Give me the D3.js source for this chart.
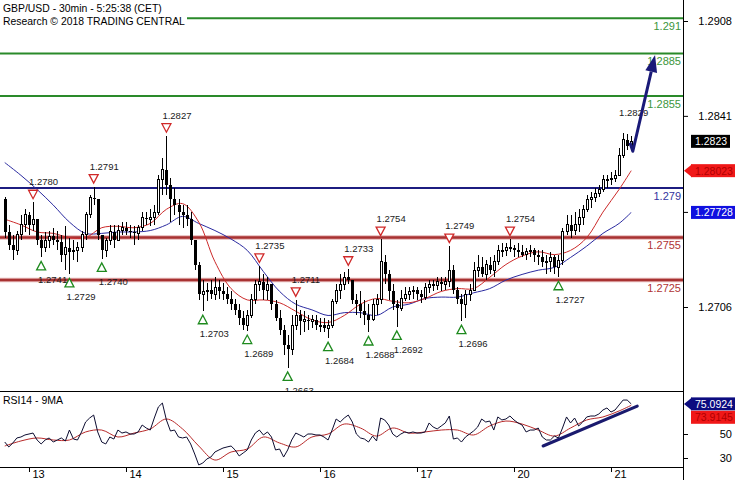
<!DOCTYPE html>
<html><head><meta charset="utf-8">
<script src="https://cdn.jsdelivr.net/npm/d3@7"></script>
<style>body{margin:0;background:#fff}svg{display:block;font-family:"Liberation Sans",Arial,sans-serif}</style>
</head><body><svg id="c" width="735" height="480"></svg>
<script>
// ---------------- DATA ----------------
const titleLine1 = "GBP/USD - 30min - 5:25:38 (CET)";
const titleLine2 = "Research \u00A9 2018 TRADING CENTRAL";
const rsiTitle = "RSI14 - 9MA";
const dayLabels = ["13","14","15","16","17","20","21"];
const dayStartIdx = [6,30,54,78,102,126,150];
const firstOpen = 1.2782;
const highs = [1.2784,1.2764,1.2757,1.2760,1.2771,1.2775,1.2773,1.2780,1.2768,1.2757,
1.2759,1.2760,1.2762,1.2760,1.2757,1.2763,1.2755,1.2753,1.2752,1.2760,
1.2773,1.2785,1.2791,1.2782,1.2757,1.2755,1.2764,1.2764,1.2764,1.2766,
1.2766,1.2764,1.2763,1.2764,1.2773,1.2773,1.2775,1.2778,1.2799,1.2811,
1.2827,1.2797,1.2790,1.2782,1.2778,1.2778,1.2773,1.2753,1.2738,1.2725,
1.2723,1.2725,1.2727,1.2725,1.2723,1.2720,1.2717,1.2712,1.2708,1.2703,
1.2704,1.2715,1.2725,1.2735,1.2729,1.2727,1.2722,1.2711,1.2704,1.2693,
1.2686,1.2700,1.2711,1.2704,1.2703,1.2700,1.2700,1.2700,1.2698,1.2698,
1.2697,1.2712,1.2722,1.2729,1.2731,1.2733,1.2725,1.2715,1.2717,1.2711,
1.2708,1.2712,1.2715,1.2754,1.2743,1.2732,1.2722,1.2711,1.2718,1.2720,
1.2720,1.2721,1.2720,1.2718,1.2723,1.2725,1.2725,1.2727,1.2727,1.2727,
1.2749,1.2736,1.2720,1.2715,1.2718,1.2722,1.2738,1.2743,1.2741,1.2739,
1.2741,1.2743,1.2750,1.2751,1.2751,1.2754,1.2750,1.2751,1.2750,1.2748,
1.2750,1.2748,1.2746,1.2746,1.2743,1.2745,1.2743,1.2743,1.2762,1.2771,
1.2771,1.2773,1.2775,1.2778,1.2785,1.2787,1.2790,1.2792,1.2799,1.2799,
1.2801,1.2803,1.2818,1.2829,1.2828,1.2827];
const lows = [1.2755,1.2746,1.2739,1.2743,1.2753,1.2759,1.2757,1.2760,1.2750,1.2741,
1.2745,1.2748,1.2750,1.2746,1.2738,1.2732,1.2729,1.2739,1.2738,1.2745,
1.2753,1.2769,1.2778,1.2753,1.2740,1.2741,1.2750,1.2748,1.2753,1.2757,
1.2757,1.2755,1.2750,1.2753,1.2760,1.2764,1.2763,1.2764,1.2771,1.2785,
1.2785,1.2766,1.2771,1.2764,1.2762,1.2763,1.2750,1.2732,1.2711,1.2703,
1.2710,1.2712,1.2711,1.2712,1.2711,1.2708,1.2704,1.2700,1.2693,1.2690,
1.2689,1.2698,1.2708,1.2717,1.2711,1.2711,1.2704,1.2696,1.2686,1.2672,
1.2663,1.2672,1.2690,1.2686,1.2688,1.2690,1.2691,1.2690,1.2688,1.2688,
1.2684,1.2691,1.2708,1.2712,1.2718,1.2722,1.2708,1.2700,1.2698,1.2693,
1.2688,1.2696,1.2700,1.2708,1.2722,1.2711,1.2704,1.2692,1.2703,1.2710,
1.2711,1.2712,1.2711,1.2709,1.2711,1.2716,1.2717,1.2718,1.2717,1.2718,
1.2720,1.2715,1.2708,1.2696,1.2698,1.2710,1.2717,1.2727,1.2727,1.2725,
1.2729,1.2727,1.2736,1.2741,1.2742,1.2745,1.2741,1.2741,1.2741,1.2739,
1.2741,1.2738,1.2736,1.2734,1.2729,1.2731,1.2729,1.2727,1.2736,1.2757,
1.2755,1.2757,1.2759,1.2764,1.2773,1.2776,1.2780,1.2784,1.2787,1.2790,
1.2792,1.2794,1.2799,1.2811,1.2817,1.2818];
const closes = [1.2759,1.2750,1.2746,1.2757,1.2764,1.2771,1.2764,1.2768,1.2753,1.2748,
1.2753,1.2756,1.2753,1.2752,1.2743,1.2748,1.2745,1.2746,1.2748,1.2757,
1.2771,1.2783,1.2782,1.2757,1.2746,1.2753,1.2759,1.2753,1.2760,1.2762,
1.2760,1.2759,1.2758,1.2762,1.2769,1.2768,1.2769,1.2773,1.2796,1.2803,
1.2792,1.2782,1.2778,1.2773,1.2771,1.2768,1.2753,1.2736,1.2715,1.2717,
1.2718,1.2715,1.2720,1.2717,1.2715,1.2712,1.2708,1.2704,1.2698,1.2693,
1.2700,1.2711,1.2722,1.2724,1.2718,1.2722,1.2708,1.2698,1.2690,1.2679,
1.2676,1.2693,1.2700,1.2696,1.2697,1.2696,1.2697,1.2693,1.2693,1.2691,
1.2693,1.2710,1.2718,1.2722,1.2727,1.2725,1.2711,1.2708,1.2703,1.2700,
1.2697,1.2708,1.2711,1.2738,1.2729,1.2717,1.2708,1.2705,1.2712,1.2715,
1.2717,1.2718,1.2715,1.2713,1.2720,1.2722,1.2721,1.2724,1.2722,1.2724,
1.2732,1.2718,1.2712,1.2708,1.2715,1.2718,1.2732,1.2734,1.2729,1.2736,
1.2732,1.2738,1.2746,1.2746,1.2748,1.2748,1.2746,1.2745,1.2743,1.2745,
1.2746,1.2743,1.2741,1.2738,1.2738,1.2741,1.2734,1.2739,1.2759,1.2764,
1.2760,1.2764,1.2769,1.2775,1.2782,1.2783,1.2786,1.2789,1.2796,1.2796,
1.2797,1.2799,1.2813,1.2824,1.2820,1.2823];
const maIdx = [0,4,8,12,16,20,24,28,32,36,40,44,48,52,56,60,64,68,72,76,80,84,88,92,96,100,104,108,112,116,120,124,128,132,136,140,144,148,152,155];
const redMA = [1.2768,1.2764,1.2759,1.2758,1.2755,1.2755,1.2762,1.2763,1.2762,1.2765,
1.2775,1.2779,1.2766,1.2738,1.2719,1.2711,1.2711,1.2709,1.2703,1.2697,
1.2695,1.2700,1.2708,1.2712,1.2710,1.2709,1.2712,1.2717,1.2719,1.2719,
1.2727,1.2736,1.2742,1.2745,1.2743,1.2746,1.2755,1.2773,1.2789,1.28023];
const blueMA = [1.2808,1.2799,1.2789,1.2778,1.2766,1.2758,1.2758,1.2759,1.2759,1.2760,
1.2764,1.2770,1.2765,1.2760,1.2754,1.2746,1.2731,1.2717,1.2708,1.2704,
1.2700,1.2702,1.2702,1.2700,1.2706,1.2708,1.2712,1.2713,1.2713,1.2716,
1.2719,1.2725,1.2729,1.2732,1.2734,1.2741,1.2749,1.2758,1.2765,1.27728];
const rsi = [43.3,39.2,42.5,46.7,47.5,49.2,50,50.8,45,41.7,
45,46.7,43.3,45,46.7,44.2,53.3,45.8,45,51.7,
60,63.3,65.8,51.7,43.3,41.7,47.5,45.8,53.3,50.8,
51.7,50,50,51.7,57.5,55,53.3,63.3,72.5,75.8,
61.7,52.5,53.3,47.5,46.7,47.5,41.7,33.3,24.2,25.8,
29.2,30.8,35,36.7,38.3,39.2,40,36.7,31.7,34.2,
36.7,45,50.8,53.3,49.2,51.7,47.5,36.7,37.5,30.8,
36.7,45,50.8,49.2,47.5,50,50,49.2,49.2,47.5,
45,53.3,62.5,60,63.3,65.8,60,50,46.7,45.8,
43.3,48.3,44.2,63.3,61.7,57.5,50,47.5,50,51.7,
50.8,51.7,50.8,50.8,51.7,59.2,55.8,54.2,56.7,59.2,
65,45.8,46.7,43.3,47.5,50,52.5,55.8,62.5,60,
60.8,53.3,64.2,61.7,62.5,65,61.7,59.2,57.5,51.7,
53.3,53.3,55,47.5,45,45,48.3,46.7,55,64.2,
59.2,63.3,56.7,60,64.2,65,65,66.7,70,71.7,
68.3,70,74.2,78.3,78.3,75.0924];
const rsiMA = [40,44.2,46.7,45,45,51.7,53.3,47.5,50.8,54.2,
62.5,54.2,40,28.3,35,37.5,47.5,42.5,39.2,47.5,
50,58.3,55,48.3,55,50.8,51.7,53.3,53.3,49.2,
56.7,60.8,58.3,53.3,48.3,55,61.7,64.2,69.2,73.9145];
const levelsGreen = [1.291, 1.2885, 1.2855];
const levelsGreenText = ["1.291", "1.2885", "1.2855"];
const levelsBlue = [1.279];
const levelsBlueText = ["1.279"];
const levelsRed = [1.2755, 1.2725];
const levelsRedText = ["1.2755", "1.2725"];
const priceTicks = [1.2908, 1.2841, 1.2706];
const rsiTicks = [50, 30];
const markHighIdx = [7, 22, 40, 63, 72, 85, 93, 110, 125];
const labelOnlyHighIdx = [153];
const markLowIdx = [9, 16, 24, 49, 60, 70, 80, 90, 97, 113, 137];
const arrowPts = [[154.7, 1.2822], [155.4, 1.2816], [160.9, 1.2884]];
const rsiTrend = [[133.2, 40], [156.5, 73.3]];
const lastPrice = 1.2823, lastRedMA = 1.28023, lastBlueMA = 1.27728;
const lastRsi = 75.0924, lastRsiMA = 73.9145;

// ---------------- LAYOUT ----------------
const W = 735, H = 480, R = 683, MB = 391, RT = 391, RB = 467;
const svg = d3.select("#c");
const x = d3.scaleLinear().domain([0, closes.length - 1]).range([4.75, 631.2]);
const y = d3.scaleLinear().domain([1.2706, 1.2908]).range([307, 21]);
const yr = d3.scaleLinear().domain([30, 50]).range([458, 434]);
const FONT = '"Liberation Sans", Arial, sans-serif';

svg.append("rect").attr("width", W).attr("height", H).attr("fill", "#fff");
const defs = svg.append("defs");
defs.append("clipPath").attr("id", "mainClip").append("rect")
  .attr("x", 0).attr("y", 0).attr("width", R).attr("height", MB);
defs.append("clipPath").attr("id", "rsiClip").append("rect")
  .attr("x", 0).attr("y", RT).attr("width", R).attr("height", RB - RT);

const main = svg.append("g").attr("clip-path", "url(#mainClip)");

// horizontal levels
function levelLines(vals, color, width, halo) {
  if (halo) {
    main.append("g").selectAll("line").data(vals).join("line")
      .attr("x1", 0).attr("x2", R).attr("y1", d => y(d)).attr("y2", d => y(d))
      .attr("stroke", halo).attr("stroke-width", width + 2);
  }
  main.append("g").selectAll("line").data(vals).join("line")
    .attr("x1", 0).attr("x2", R).attr("y1", d => y(d)).attr("y2", d => y(d))
    .attr("stroke", color).attr("stroke-width", width);
}
levelLines(levelsGreen, "#2a8a2a", 2);
levelLines(levelsBlue, "#1c1c80", 2);
levelLines(levelsRed, "#a83232", 2.5, "#e4b4b4");

// moving averages
const maLine = d3.line().x(d => x(d[0])).y(d => y(d[1])).curve(d3.curveCatmullRom);
main.append("path").datum(maIdx.map((k, j) => [k, blueMA[j]]))
  .attr("d", maLine).attr("fill", "none").attr("stroke", "#2a2aa0").attr("stroke-width", 1);
main.append("path").datum(maIdx.map((k, j) => [k, redMA[j]]))
  .attr("d", maLine).attr("fill", "none").attr("stroke", "#cc2a2a").attr("stroke-width", 1);

// candles
const bars = closes.map((c, i) => ({ i, o: i ? closes[i - 1] : firstOpen, h: highs[i], l: lows[i], c }));
const cg = main.append("g").attr("shape-rendering", "crispEdges");
cg.selectAll("line").data(bars).join("line")
  .attr("x1", d => Math.round(x(d.i)) + 0.5).attr("x2", d => Math.round(x(d.i)) + 0.5)
  .attr("y1", d => y(Math.max(d.h, d.o, d.c))).attr("y2", d => y(Math.min(d.l, d.o, d.c)))
  .attr("stroke", "#000").attr("stroke-width", 1);
cg.selectAll("rect").data(bars).join("rect")
  .attr("x", d => d.c >= d.o ? Math.round(x(d.i)) - 0.5 : Math.round(x(d.i)) - 1)
  .attr("width", d => d.c >= d.o ? 2 : 3)
  .attr("y", d => y(Math.max(d.o, d.c)))
  .attr("height", d => Math.max(1, y(Math.min(d.o, d.c)) - y(Math.max(d.o, d.c))))
  .attr("fill", d => d.c >= d.o ? "#fff" : "#000")
  .attr("stroke", d => d.c >= d.o ? "#000" : "none").attr("stroke-width", 1);

// swing markers
const mk = main.append("g");
mk.selectAll("path.hi").data(markHighIdx).join("path").attr("class", "hi")
  .attr("d", i => { const cx = x(i), t = y(highs[i]) - 12; return `M${cx - 4.5},${t}L${cx + 4.5},${t}L${cx},${t + 8.5}Z`; })
  .attr("fill", "#fff").attr("stroke", "#d02828").attr("stroke-width", 1.3);
mk.selectAll("path.lo").data(markLowIdx).join("path").attr("class", "lo")
  .attr("d", i => { const cx = x(i), b = y(lows[i]) + 12.5; return `M${cx - 4.5},${b}L${cx + 4.5},${b}L${cx},${b - 8.5}Z`; })
  .attr("fill", "#fff").attr("stroke", "#1e8a1e").attr("stroke-width", 1.3);
mk.selectAll("text.hi").data(markHighIdx.concat(labelOnlyHighIdx)).join("text").attr("class", "hi")
  .attr("x", i => x(i) - 4).attr("y", i => y(highs[i]) - 17)
  .attr("font-size", 9.5).attr("font-family", FONT).attr("fill", "#1a1a1a")
  .text(i => highs[i].toFixed(4));
mk.selectAll("text.lo").data(markLowIdx).join("text").attr("class", "lo")
  .attr("x", i => x(i) - 3).attr("y", i => y(lows[i]) + 26)
  .attr("font-size", 9.5).attr("font-family", FONT).attr("fill", "#1a1a1a")
  .text(i => lows[i].toFixed(4));

// level labels
function levelLabels(vals, txt, color) {
  main.append("g").selectAll("text").data(vals).join("text")
    .attr("x", R - 2).attr("y", d => y(d) + 11.5).attr("text-anchor", "end")
    .attr("font-size", 11).attr("font-family", FONT).attr("fill", color)
    .text((d, k) => txt[k]);
}
levelLabels(levelsGreen, levelsGreenText, "#3c963c");
levelLabels(levelsBlue, levelsBlueText, "#3434a0");
levelLabels(levelsRed, levelsRedText, "#b03434");

// projection arrow
const ap = arrowPts.map(d => [x(d[0]), y(d[1])]);
const tip = ap[ap.length - 1], prev = ap[ap.length - 2];
const ang = Math.atan2(tip[1] - prev[1], tip[0] - prev[0]);
const hl = 17, hw = 6;
const base = [tip[0] - hl * Math.cos(ang), tip[1] - hl * Math.sin(ang)];
const shaft = ap.slice(0, -1).concat([base]);
main.append("path").attr("d", d3.line()(shaft)).attr("fill", "none")
  .attr("stroke", "#1a1a78").attr("stroke-width", 3).attr("stroke-linejoin", "round");
main.append("path")
  .attr("d", `M${tip[0]},${tip[1]}L${base[0] + hw * Math.sin(ang)},${base[1] - hw * Math.cos(ang)}L${base[0] - hw * Math.sin(ang)},${base[1] + hw * Math.cos(ang)}Z`)
  .attr("fill", "#1a1a78");

// title
svg.append("rect").attr("x", 0).attr("y", 0).attr("width", 187).attr("height", 28).attr("fill", "#fff");
svg.append("text").attr("x", 3).attr("y", 12).attr("font-size", 10.4).attr("font-family", FONT).attr("fill", "#000").text(titleLine1);
svg.append("text").attr("x", 3).attr("y", 25).attr("font-size", 10.4).attr("font-family", FONT).attr("fill", "#000").text(titleLine2);

// ---------------- RSI PANEL ----------------
svg.append("rect").attr("x", 0).attr("y", RT).attr("width", R).attr("height", RB - RT).attr("fill", "#fff");
const rg = svg.append("g").attr("clip-path", "url(#rsiClip)");
rg.append("path").datum(maIdx.map((k, j) => [k, rsiMA[j]]))
  .attr("d", d3.line().x(d => x(d[0])).y(d => yr(d[1])).curve(d3.curveCatmullRom))
  .attr("fill", "none").attr("stroke", "#b82a2a").attr("stroke-width", 1);
rg.append("path").datum(rsi.map((v, i) => [i, v]))
  .attr("d", d3.line().x(d => x(d[0])).y(d => yr(d[1])))
  .attr("fill", "none").attr("stroke", "#0c0c30").attr("stroke-width", 1);
rg.append("path").datum(rsiTrend)
  .attr("d", d3.line().x(d => x(d[0])).y(d => yr(d[1])))
  .attr("stroke", "#1a1a6e").attr("stroke-width", 3).attr("stroke-linecap", "round");
svg.append("line").attr("x1", 0).attr("x2", R).attr("y1", RT + 0.5).attr("y2", RT + 0.5).attr("stroke", "#000");
svg.append("line").attr("x1", 0).attr("x2", R).attr("y1", RB + 0.5).attr("y2", RB + 0.5).attr("stroke", "#000");
svg.append("text").attr("x", 3).attr("y", 404).attr("font-size", 10.5).attr("font-family", FONT).attr("fill", "#000").text(rsiTitle);

// ---------------- AXES ----------------
svg.append("line").attr("x1", R + 0.5).attr("x2", R + 0.5).attr("y1", 0).attr("y2", H).attr("stroke", "#000");
function styleAxis(g) {
  g.select(".domain").remove();
  g.selectAll("line").attr("stroke", "#000");
  g.selectAll("text").attr("font-size", 11).attr("font-family", FONT).attr("fill", "#000");
}
const axP = svg.append("g").attr("transform", `translate(${R},0)`)
  .call(d3.axisRight(y).tickValues(priceTicks).tickSize(5).tickFormat(d3.format(".4f")));
styleAxis(axP);
axP.selectAll("text").attr("x", 49).attr("text-anchor", "end");
const axR = svg.append("g").attr("transform", `translate(${R},0)`)
  .call(d3.axisRight(yr).tickValues(rsiTicks).tickSize(5).tickFormat(d3.format("d")));
styleAxis(axR);
axR.selectAll("text").attr("x", 49).attr("text-anchor", "end");
const axB = svg.append("g").attr("transform", `translate(0,${RB})`)
  .call(d3.axisBottom(x).tickValues(dayStartIdx).tickSize(5).tickFormat((d, k) => dayLabels[k]));
styleAxis(axB);
axB.selectAll("text").attr("x", 3).attr("y", 11).attr("dy", 0).attr("text-anchor", "start");

// value tags
function tag(yy, txt, bg, fg, pointer, tick, full) {
  const g = svg.append("g");
  const top = yy - 6.5;
  if (tick) g.append("line").attr("x1", R).attr("x2", R + 5).attr("y1", yy).attr("y2", yy).attr("stroke", "#000");
  if (pointer) g.append("path").attr("d", `M${R + 1},${yy}L${R + 9},${top}L${R + 9},${top + 13}Z`).attr("fill", bg);
  g.append("rect").attr("x", R + 8).attr("y", top).attr("width", (pointer || full) ? W - R - 8 : 39).attr("height", 13).attr("fill", bg);
  g.append("text").attr("x", R + 12).attr("y", yy + 4).attr("font-size", 10.5).attr("font-family", FONT).attr("fill", fg).text(txt);
}
tag(y(lastPrice), lastPrice.toFixed(4), "#000", "#fff", false, false, false);
tag(y(lastRedMA), lastRedMA.toFixed(5), "#f01818", "#b00000", true, false, true);
tag(y(lastBlueMA), lastBlueMA.toFixed(5), "#1010e0", "#fff", false, true, true);
tag(yr(lastRsi), lastRsi.toFixed(4), "#0c0c80", "#fff", true, false, true);
tag(yr(lastRsiMA) + 12, lastRsiMA.toFixed(4), "#f01818", "#b00000", false, false, true);
</script></body></html>
